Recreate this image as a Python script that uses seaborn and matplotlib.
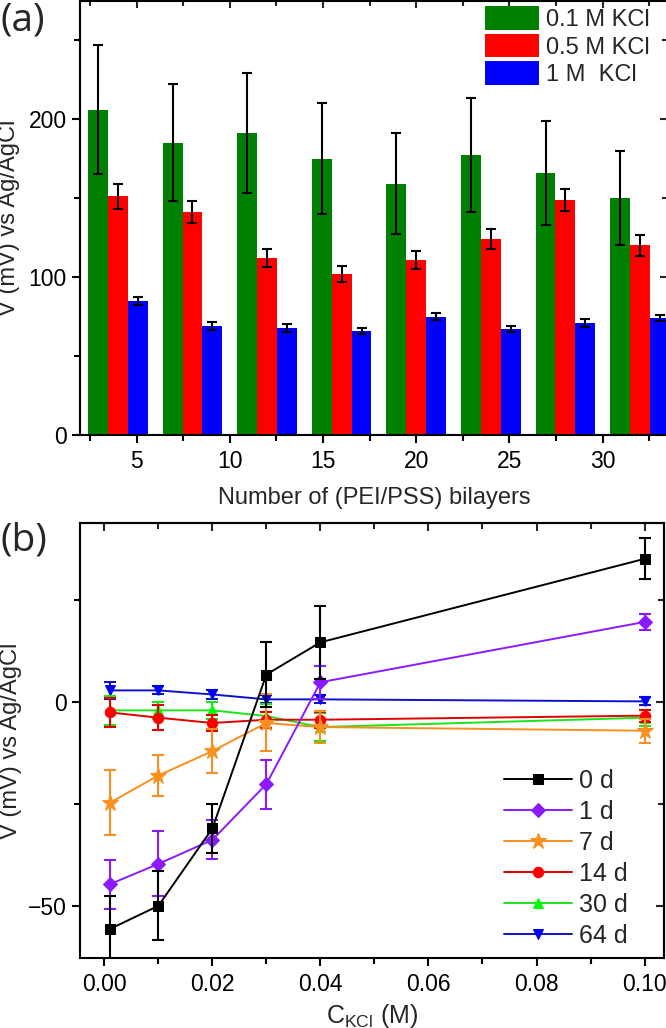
import numpy as np
import pandas as pd
import matplotlib
matplotlib.use("Agg")
import matplotlib.pyplot as plt
from matplotlib.ticker import MultipleLocator, FormatStrFormatter
import seaborn as sns

# -----------------------------------
# Data (a): potential vs number of bilayers
# -----------------------------------
bilayers = [4, 8, 12, 16, 20, 24, 28, 32]
salts = ["0.1 M KCl", "0.5 M KCl", "1 M  KCl"]
v_01 = [206, 185, 191, 175, 159, 177, 166, 150]
e_01 = [41, 37, 38, 35, 32, 36, 33, 30]
v_05 = [151, 141, 112, 102, 111, 124, 149, 120]
e_05 = [8, 7, 5.6, 5, 5.7, 6.3, 7, 6.5]
v_1 = [85, 69, 68, 66, 75, 67, 71, 74]
e_1 = [2.6, 2.5, 2.5, 2, 2, 2, 2.5, 2]
bar_colors = ["#008000", "#FF0000", "#0000FF"]

# -----------------------------------
# Data (b): potential vs KCl concentration at different ages
# -----------------------------------
c_kcl = [0.001, 0.01, 0.02, 0.03, 0.04, 0.1]
ages = ["0 d", "1 d", "7 d", "14 d", "30 d", "64 d"]
v_0d = [-55.7, -50, -31, 6.8, 14.7, 35.2]
err_0d = [8, 8.5, 6, 8, 9, 5]
v_1d = [-44.7, -39.7, -33.8, -20.1, 4.9, 19.7]
err_1d = [6, 8, 4.8, 6, 4, 2]
v_7d = [-24.7, -18.0, -12.0, -5.1, -6.1, -7.0]
err_7d = [8, 5, 5.5, 7, 4, 3]
v_14d = [-2.5, -3.8, -5.1, -4.3, -4.3, -3.3]
err_14d = [3.5, 3, 2, 2, 2, 1.5]
v_30d = [-2.0, -2.0, -2.0, -3.4, -6.1, -3.8]
err_30d = [3.5, 2, 2, 3, 3.5, 2]
v_64d = [2.9, 2.9, 1.9, 0.7, 0.7, 0.2]
err_64d = [2, 1, 1, 1, 1, 1]
line_colors = ["#000000", "#8B1AFF", "#F7901E", "#E00000", "#19E619", "#1010C8"]
marker_colors = ["#000000", "#8B1AFF", "#F7901E", "#FF0000", "#00FF00", "#0000FF"]
markers = ["s", "D", "*", "o", "^", "v"]

# -----------------------------------
# Style
# -----------------------------------
sns.set_style("ticks")
plt.rcParams["font.family"] = ["Liberation Sans", "DejaVu Sans"]
plt.rcParams["mathtext.fontset"] = "custom"
plt.rcParams["mathtext.rm"] = "Liberation Sans"
plt.rcParams["mathtext.it"] = "Liberation Sans:italic"
plt.rcParams["axes.linewidth"] = 1.5

W, H = 666, 1028
fig = plt.figure(figsize=(W / 100, H / 100), dpi=100)


def px_axes(left, top, right, bottom):
    return fig.add_axes([left / W, 1 - bottom / H, (right - left) / W, (bottom - top) / H])


# -----------------------------------
# (a) bars
# -----------------------------------
ax1 = px_axes(80, 0.5, 668, 435)
df_a = pd.DataFrame({
    "layers": bilayers * 3,
    "V": v_01 + v_05 + v_1,
    "salt": np.repeat(salts, len(bilayers)),
})
sns.barplot(data=df_a, x="layers", y="V", hue="salt", hue_order=salts,
            palette=bar_colors, native_scale=True, errorbar=None,
            saturation=1, linewidth=0, ax=ax1)

errs_a = [e_01, e_05, e_1]
vals_a = [v_01, v_05, v_1]
for cont, vals, errs in zip(ax1.containers, vals_a, errs_a):
    xs = [p.get_x() + p.get_width() / 2 for p in cont.patches]
    ax1.errorbar(xs, vals, yerr=errs, fmt="none", ecolor="black",
                 elinewidth=1.5, capsize=3.5, capthick=1.5, zorder=5)

ax1.set_xlim(1.97, 33.5)
ax1.set_ylim(0, 275)
ax1.xaxis.set_major_locator(MultipleLocator(5))
ax1.xaxis.set_minor_locator(MultipleLocator(2.5))
ax1.yaxis.set_major_locator(MultipleLocator(100))
ax1.yaxis.set_minor_locator(MultipleLocator(50))
ax1.set_xlabel("Number of (PEI/PSS) bilayers", fontsize=17, labelpad=10)
ax1.set_ylabel("V (mV) vs Ag/AgCl", fontsize=17, labelpad=6)

old = ax1.get_legend()
handles = old.legend_handles
labels = [t.get_text() for t in old.get_texts()]
old.remove()
ax1.legend(handles, labels, loc="upper right", bbox_to_anchor=(652 / W, 1 - 4 / H),
           bbox_transform=fig.transFigure, frameon=False, fontsize=17,
           handlelength=2.3, handleheight=1.15, handletextpad=0.3,
           labelspacing=0.12, borderpad=0.1, borderaxespad=0)

# -----------------------------------
# (b) lines
# -----------------------------------
ax2 = px_axes(80, 523, 664, 958)
series = [v_0d, v_1d, v_7d, v_14d, v_30d, v_64d]
errors = [err_0d, err_1d, err_7d, err_14d, err_30d, err_64d]
for i, (lab, vals, errs) in enumerate(zip(ages, series, errors)):
    z = 10 - i
    ms = 12 if markers[i] == "*" else 7.5
    ax2.errorbar(c_kcl, vals, yerr=errs, fmt="none", ecolor=line_colors[i],
                 elinewidth=1.5, capsize=4, capthick=1.5, zorder=z)
    sns.lineplot(x=c_kcl, y=vals, ax=ax2, color=line_colors[i], marker=markers[i],
                 markersize=ms, markerfacecolor=marker_colors[i],
                 markeredgecolor=marker_colors[i], linewidth=1.4, label=lab,
                 zorder=z + 0.5)

ax2.set_xlim(-0.0045, 0.1036)
ax2.set_ylim(-62.8, 44)
ax2.xaxis.set_major_locator(MultipleLocator(0.02))
ax2.xaxis.set_minor_locator(MultipleLocator(0.01))
ax2.xaxis.set_major_formatter(FormatStrFormatter("%.2f"))
ax2.yaxis.set_major_locator(MultipleLocator(50))
ax2.yaxis.set_minor_locator(MultipleLocator(25))
ax2.set_xlabel(r"$\mathrm{C}_{\mathrm{KCl}}$ (M)", fontsize=18, labelpad=4)
ax2.set_ylabel("V (mV) vs Ag/AgCl", fontsize=17, labelpad=4)
ax2.legend(loc="lower right", bbox_to_anchor=(628 / W, 1 - 948 / H),
           bbox_transform=fig.transFigure, frameon=False, fontsize=18,
           handlelength=2.7, handletextpad=0.3, labelspacing=0.28,
           numpoints=1, borderpad=0, borderaxespad=0)

for ax in [ax1, ax2]:
    ax.tick_params(which="both", width=1.5, colors="black", labelsize=16.5,
                   direction="out", top=False, right=False)
    ax.tick_params(which="major", length=6)
    ax.tick_params(which="minor", length=4)
    ax.tick_params(axis="x", pad=5)
    for s in ax.spines.values():
        s.set_linewidth(1.5)
        s.set_color("black")
    ax.spines["top"].set_visible(True)
    ax.spines["right"].set_visible(True)
    # top/right ticks point inward
    tw = ax.secondary_xaxis("top")
    tw.xaxis.set_major_locator(ax.xaxis.get_major_locator())
    tw.xaxis.set_minor_locator(ax.xaxis.get_minor_locator())
    tw.tick_params(which="both", direction="in", width=1.5, labeltop=False)
    tw.tick_params(which="major", length=6)
    tw.tick_params(which="minor", length=4)
    tw.spines["top"].set_linewidth(1.5)
    tr = ax.secondary_yaxis("right")
    tr.yaxis.set_major_locator(ax.yaxis.get_major_locator())
    tr.yaxis.set_minor_locator(ax.yaxis.get_minor_locator())
    tr.tick_params(which="both", direction="in", width=1.5, labelright=False)
    tr.tick_params(which="major", length=6)
    tr.tick_params(which="minor", length=4)
    tr.spines["right"].set_linewidth(1.5)

fig.text(0, 1 - 2 / H, "(a)", fontsize=28, va="top", ha="left", family="Open Sans")
fig.text(0, 1 - 522 / H, "(b)", fontsize=28, va="top", ha="left", family="Open Sans")

fig.savefig("out.png", dpi=100)
